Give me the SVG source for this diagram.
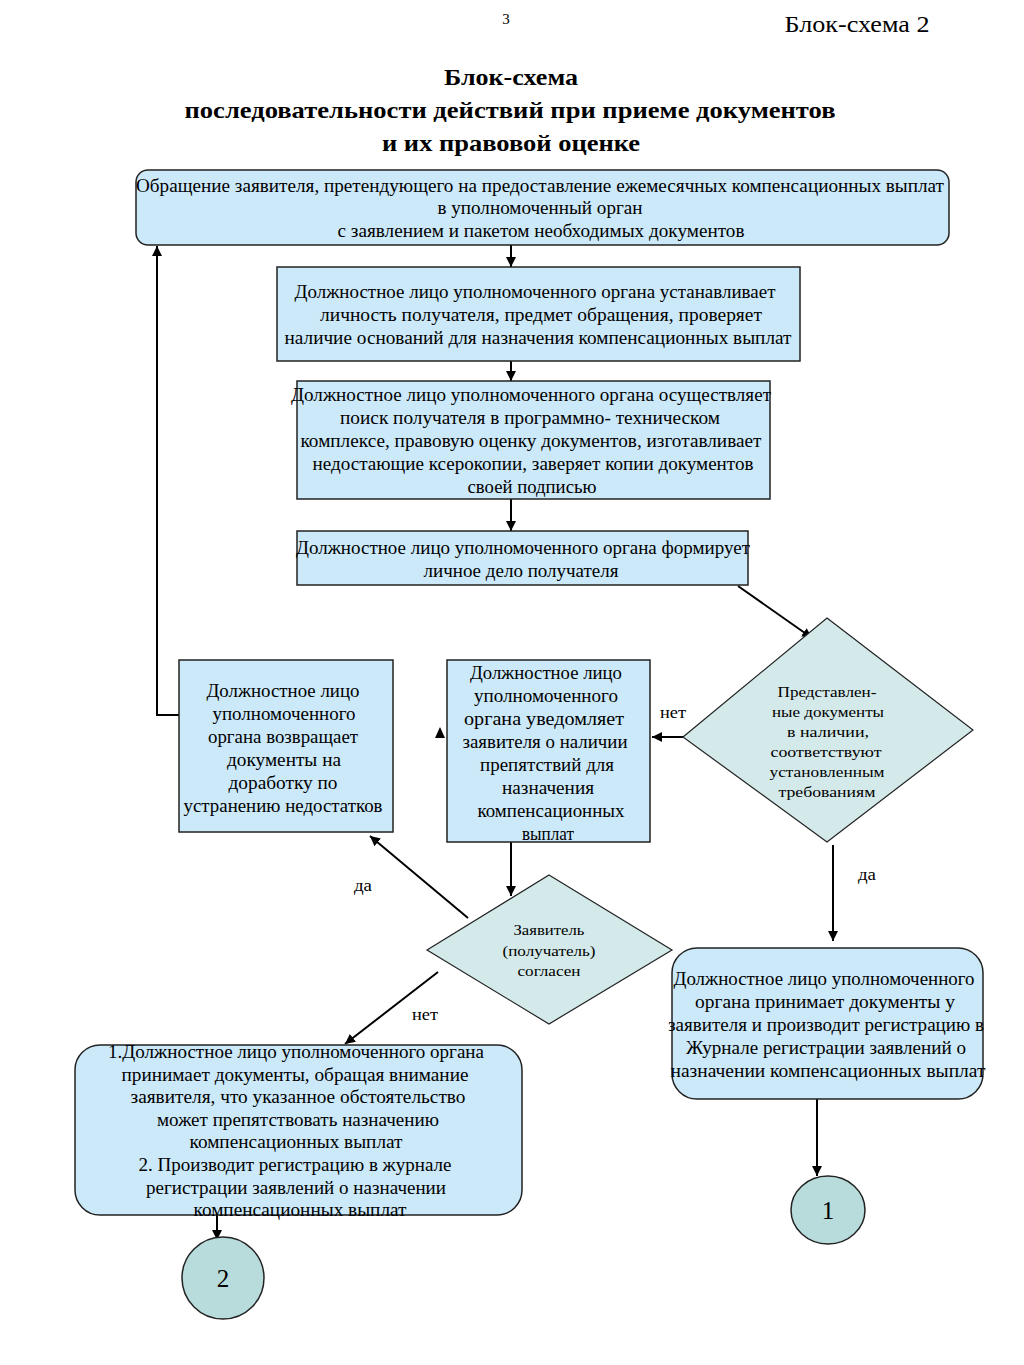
<svg xmlns="http://www.w3.org/2000/svg" width="1024" height="1365" viewBox="0 0 1024 1365">
<defs>
<marker id="ah" viewBox="0 0 10 10" refX="10" refY="5" markerWidth="10" markerHeight="10" markerUnits="userSpaceOnUse" orient="auto">
<path d="M0,0 L10,5 L0,10 z" fill="#000"/>
</marker>
<style>
text{font-family:"Liberation Serif","Times New Roman",serif;fill:#000}
.t{font-size:18px;text-anchor:middle}
.s{font-size:15.5px;text-anchor:middle}
.d{font-size:15px;text-anchor:middle}
.lbl{font-size:16px}
.title{font-size:24px;font-weight:bold;text-anchor:middle}
.box{fill:#cce9fa;stroke:#222;stroke-width:1.5}
.dia{fill:#d4eaea;stroke:#222;stroke-width:1.2}
.circ{fill:#b8dcdc;stroke:#222;stroke-width:1.5}
.c{stroke:#000;stroke-width:2;fill:none}
</style>
</defs>
<rect width="1024" height="1365" fill="#fff"/>
<text x="506" y="24" style="font-size:15px" text-anchor="middle">3</text>
<text x="857" y="32" style="font-size:23px" text-anchor="middle" textLength="145" lengthAdjust="spacingAndGlyphs">Блок-схема 2</text>
<text class="title" x="511" y="85" textLength="134" lengthAdjust="spacingAndGlyphs">Блок-схема</text>
<text class="title" x="510" y="118" textLength="651" lengthAdjust="spacingAndGlyphs">последовательности действий при приеме документов</text>
<text class="title" x="511" y="151" textLength="258" lengthAdjust="spacingAndGlyphs">и их правовой оценке</text>

<g id="connectors">
<line class="c" x1="511" y1="245" x2="511" y2="267" marker-end="url(#ah)"/>
<line class="c" x1="511" y1="361" x2="511" y2="381" marker-end="url(#ah)"/>
<line class="c" x1="511" y1="499" x2="511" y2="531" marker-end="url(#ah)"/>
<line class="c" x1="738" y1="586" x2="812" y2="638" marker-end="url(#ah)"/>
<line class="c" x1="683" y1="737" x2="652" y2="737" marker-end="url(#ah)"/>
<polygon points="440,727 445,738 435,738" fill="#000"/>
<polyline class="c" points="179,715 157,715 157,246" marker-end="url(#ah)"/>
<line class="c" x1="511" y1="842" x2="511" y2="896" marker-end="url(#ah)"/>
<line class="c" x1="468" y1="918" x2="370" y2="836" marker-end="url(#ah)"/>
<line class="c" x1="438" y1="972" x2="345" y2="1044" marker-end="url(#ah)"/>
<line class="c" x1="217" y1="1215" x2="217" y2="1240" marker-end="url(#ah)"/>
<line class="c" x1="833" y1="845" x2="833" y2="941" marker-end="url(#ah)"/>
<line class="c" x1="817" y1="1099" x2="817" y2="1176" marker-end="url(#ah)"/>
<text class="lbl" x="660" y="718" textLength="26" lengthAdjust="spacingAndGlyphs">нет</text>
<text class="lbl" x="354" y="891" textLength="18" lengthAdjust="spacingAndGlyphs">да</text>
<text class="lbl" x="412" y="1020" textLength="26" lengthAdjust="spacingAndGlyphs">нет</text>
<text class="lbl" x="858" y="880" textLength="18" lengthAdjust="spacingAndGlyphs">да</text>
</g>

<g id="n1">
<rect class="box" x="136" y="170" width="813" height="75" rx="12"/>
<text class="t" x="540" y="192" textLength="808" lengthAdjust="spacingAndGlyphs">Обращение заявителя, претендующего на предоставление  ежемесячных компенсационных выплат</text>
<text class="t" x="540" y="214" textLength="205" lengthAdjust="spacingAndGlyphs">в уполномоченный орган</text>
<text class="t" x="541" y="237" textLength="407" lengthAdjust="spacingAndGlyphs">с заявлением и пакетом необходимых документов</text>
</g>

<g id="n2">
<rect class="box" x="277" y="267" width="523" height="94"/>
<text class="t" x="535" y="298" textLength="481" lengthAdjust="spacingAndGlyphs">Должностное лицо уполномоченного органа устанавливает</text>
<text class="t" x="541" y="321" textLength="442" lengthAdjust="spacingAndGlyphs">личность получателя, предмет обращения, проверяет</text>
<text class="t" x="538" y="344" textLength="507" lengthAdjust="spacingAndGlyphs">наличие оснований для назначения  компенсационных выплат</text>
</g>

<g id="n3">
<rect class="box" x="297" y="381" width="473" height="118"/>
<text class="t" x="531" y="401" textLength="480" lengthAdjust="spacingAndGlyphs">Должностное лицо уполномоченного органа осуществляет</text>
<text class="t" x="530" y="424" textLength="380" lengthAdjust="spacingAndGlyphs">поиск  получателя в программно- техническом</text>
<text class="t" x="531" y="447" textLength="461" lengthAdjust="spacingAndGlyphs">комплексе, правовую оценку документов, изготавливает</text>
<text class="t" x="533" y="470" textLength="441" lengthAdjust="spacingAndGlyphs">недостающие ксерокопии, заверяет копии документов</text>
<text class="t" x="532" y="493" textLength="129" lengthAdjust="spacingAndGlyphs">своей подписью</text>
</g>

<g id="n4">
<rect class="box" x="297" y="531" width="451" height="54"/>
<text class="t" x="523" y="554" textLength="454" lengthAdjust="spacingAndGlyphs">Должностное лицо уполномоченного органа формирует</text>
<text class="t" x="521" y="577" textLength="195" lengthAdjust="spacingAndGlyphs">личное дело получателя</text>
</g>

<g id="n5">
<polygon class="dia" points="827,618 973,730 827,842 683,737"/>
<text class="s" x="827" y="697" textLength="99" lengthAdjust="spacingAndGlyphs">Представлен-</text>
<text class="s" x="828" y="717" textLength="112" lengthAdjust="spacingAndGlyphs">ные документы</text>
<text class="s" x="828" y="737" textLength="82" lengthAdjust="spacingAndGlyphs">в наличии,</text>
<text class="s" x="826" y="757" textLength="111" lengthAdjust="spacingAndGlyphs">соответствуют</text>
<text class="s" x="827" y="777" textLength="115" lengthAdjust="spacingAndGlyphs">установленным</text>
<text class="s" x="827" y="797" textLength="97" lengthAdjust="spacingAndGlyphs">требованиям</text>
</g>

<g id="n6">
<rect class="box" x="447" y="660" width="203" height="182"/>
<text class="t" x="546" y="679" textLength="152" lengthAdjust="spacingAndGlyphs">Должностное лицо</text>
<text class="t" x="546" y="702" textLength="144" lengthAdjust="spacingAndGlyphs">уполномоченного</text>
<text class="t" x="544" y="725" textLength="160" lengthAdjust="spacingAndGlyphs">органа уведомляет</text>
<text class="t" x="545" y="748" textLength="165" lengthAdjust="spacingAndGlyphs">заявителя о наличии</text>
<text class="t" x="547" y="771" textLength="134" lengthAdjust="spacingAndGlyphs">препятствий для</text>
<text class="t" x="548" y="794" textLength="92" lengthAdjust="spacingAndGlyphs">назначения</text>
<text class="t" x="551" y="817" textLength="147" lengthAdjust="spacingAndGlyphs">компенсационных</text>
<text class="t" x="548" y="840" textLength="52" lengthAdjust="spacingAndGlyphs">выплат</text>
</g>

<g id="n7">
<rect class="box" x="179" y="660" width="214" height="172"/>
<text class="t" x="283" y="697" textLength="153" lengthAdjust="spacingAndGlyphs">Должностное лицо</text>
<text class="t" x="284" y="720" textLength="143" lengthAdjust="spacingAndGlyphs">уполномоченного</text>
<text class="t" x="283" y="743" textLength="150" lengthAdjust="spacingAndGlyphs">органа возвращает</text>
<text class="t" x="284" y="766" textLength="114" lengthAdjust="spacingAndGlyphs">документы на</text>
<text class="t" x="283" y="789" textLength="109" lengthAdjust="spacingAndGlyphs">доработку по</text>
<text class="t" x="283" y="812" textLength="199" lengthAdjust="spacingAndGlyphs">устранению недостатков</text>
</g>

<g id="n8">
<polygon class="dia" points="549,875 672,950 549,1024 427,950"/>
<text class="d" x="549" y="935" textLength="71" lengthAdjust="spacingAndGlyphs">Заявитель</text>
<text class="d" x="549" y="956" textLength="93" lengthAdjust="spacingAndGlyphs">(получатель)</text>
<text class="d" x="549" y="976" textLength="63" lengthAdjust="spacingAndGlyphs">согласен</text>
</g>

<g id="n9">
<rect class="box" x="75" y="1045" width="447" height="170" rx="25"/>
<text class="t" x="296" y="1058" textLength="376" lengthAdjust="spacingAndGlyphs">1.Должностное лицо уполномоченного органа</text>
<text class="t" x="295" y="1081" textLength="347" lengthAdjust="spacingAndGlyphs">принимает документы, обращая  внимание</text>
<text class="t" x="298" y="1103" textLength="335" lengthAdjust="spacingAndGlyphs">заявителя,  что указанное обстоятельство</text>
<text class="t" x="298" y="1126" textLength="282" lengthAdjust="spacingAndGlyphs">может препятствовать назначению</text>
<text class="t" x="296" y="1148" textLength="213" lengthAdjust="spacingAndGlyphs">компенсационных выплат</text>
<text class="t" x="295" y="1171" textLength="313" lengthAdjust="spacingAndGlyphs">2. Производит регистрацию в журнале</text>
<text class="t" x="296" y="1194" textLength="300" lengthAdjust="spacingAndGlyphs">регистрации заявлений о назначении</text>
<text class="t" x="300" y="1216" textLength="213" lengthAdjust="spacingAndGlyphs">компенсационных выплат</text>
</g>

<g id="n10">
<rect class="box" x="672" y="948" width="311" height="151" rx="25"/>
<text class="t" x="824" y="985" textLength="301" lengthAdjust="spacingAndGlyphs">Должностное лицо уполномоченного</text>
<text class="t" x="825" y="1008" textLength="260" lengthAdjust="spacingAndGlyphs">органа  принимает документы у</text>
<text class="t" x="826" y="1031" textLength="316" lengthAdjust="spacingAndGlyphs">заявителя и производит регистрацию в</text>
<text class="t" x="826" y="1054" textLength="280" lengthAdjust="spacingAndGlyphs">Журнале регистрации заявлений о</text>
<text class="t" x="828" y="1077" textLength="315" lengthAdjust="spacingAndGlyphs">назначении  компенсационных выплат</text>
</g>

<g id="n11">
<ellipse class="circ" cx="828" cy="1210" rx="37" ry="34"/>
<text x="828" y="1219" style="font-size:25px" text-anchor="middle">1</text>
</g>

<g id="n12">
<circle class="circ" cx="223" cy="1278" r="41"/>
<text x="223" y="1287" style="font-size:25px" text-anchor="middle">2</text>
</g>
</svg>
